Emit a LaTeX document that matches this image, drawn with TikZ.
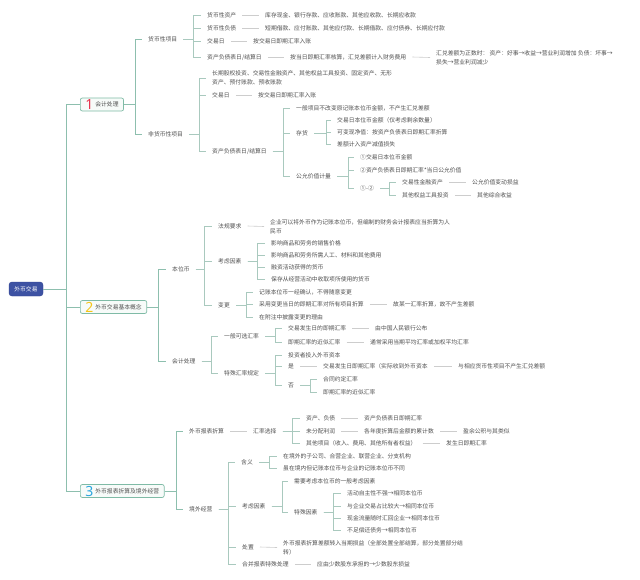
\documentclass[tikz,border=0pt]{standalone}
\usepackage{fontspec}
\setmainfont{Noto Sans CJK SC}
\newfontfamily\numfont{Noto Sans}
\definecolor{txtc}{HTML}{505050}
\definecolor{connc}{HTML}{A9C9BE}
\definecolor{mainc}{HTML}{8DBFAE}
\definecolor{leafc}{HTML}{CDCDCD}
\definecolor{boxc}{HTML}{7FBBA6}
\definecolor{boxf}{HTML}{F7FBF9}
\definecolor{rootc}{HTML}{3D52A3}
\definecolor{rootd}{HTML}{2F4190}
\definecolor{nA}{HTML}{E8344E}
\definecolor{nB}{HTML}{F5C518}
\definecolor{nC}{HTML}{2BA6DE}
\newcommand\cjksz{\fontsize{5.8}{9}\selectfont}
\newcommand\numb[2]{\raisebox{-2.8pt}{\numfont\bfseries\fontsize{14}{14}\selectfont\color{#1}#2}\hspace{2pt}}
\newcommand\mm[4]{\node[tx] (#1) at ({#2-6},#3) {#4};}
\newcommand\mmm[4]{\node[txtwo] (#1) at ({#2-6},#3) {#4};}
\newcommand\br[3]{\draw[conn] (#1.east) -- (#1.east -| #2,0) |- (#3.west);}
\newcommand\bm[3]{\draw[mconn] (#1.east) -- (#1.east -| #2,0) |- (#3.west);}
\newcommand\lk[2]{\draw[lconn] (#1.east) -- (#2.west);}
\begin{document}
\begin{tikzpicture}[x=1pt,y=-1pt,
  tx/.style={anchor=west, inner xsep=6pt, inner ysep=1pt, text=txtc, font=\cjksz, text height=5.1pt, text depth=0.7pt},
  txtwo/.style={anchor=west, inner xsep=6pt, inner ysep=1pt, text=txtc, font=\cjksz, align=left},
  lvbox/.style={draw=boxc, fill=boxf, rounded corners=2pt, line width=0.7pt, minimum height=13pt, inner xsep=5pt, inner ysep=0pt, anchor=west, text=txtc, font=\cjksz, text height=5.1pt, text depth=0.7pt},
  rootbox/.style={fill=rootc, draw=rootd, rounded corners=3pt, minimum width=34pt, minimum height=14pt, inner sep=0pt, text=white, font=\cjksz},
  conn/.style={draw=connc, line width=0.6pt},
  mconn/.style={draw=mainc, line width=0.7pt},
  lconn/.style={draw=leafc, line width=0.6pt}]
\fill[white] (0,0) rectangle (640,579);
\useasboundingbox (0,0) rectangle (640,579);

% root and level 1
\node[rootbox] (root) at (26,289) {外币交易};
\node[lvbox] (b1) at (80,104.5) {\numb{nA}{1}会计处理};
\node[lvbox] (b2) at (80,307) {\numb{nB}{2}外币交易基本概念};
\node[lvbox] (b3) at (80,491) {\numb{nC}{3}外币报表折算及境外经营};
\bm{root}{66}{b1}
\bm{root}{66}{b2}
\bm{root}{66}{b3}

% ===== section 1 =====
\mm{hb}{148}{39}{货币性项目}
\mm{fhb}{148}{134}{非货币性项目}
\bm{b1}{135}{hb}
\bm{b1}{135}{fhb}

\mm{hb1}{207}{15}{货币性资产}
\mm{hb1a}{265}{15}{库存现金、银行存款、应收账款、其他应收款、长期应收款}
\mm{hb2}{207}{28}{货币性负债}
\mm{hb2a}{265}{28}{短期借款、应付账款、其他应付款、长期借款、应付债券、长期应付款}
\mm{hb3}{207}{41}{交易日}
\mm{hb3a}{253}{41}{按交易日即期汇率入账}
\mm{hb4}{207}{57}{资产负债表日/结算日}
\mm{hb4a}{290}{57}{按当日即期汇率核算，汇兑差额计入财务费用}
\mmm{hb4b}{436}{57.5}{汇兑差额为正数时： 资产：好事→收益→营业利润增加 负债：坏事→\\损失→营业利润减少}
\br{hb}{193}{hb1}
\br{hb}{193}{hb2}
\br{hb}{193}{hb3}
\br{hb}{193}{hb4}
\lk{hb1}{hb1a}
\lk{hb2}{hb2a}
\lk{hb3}{hb3a}
\lk{hb4}{hb4a}
\lk{hb4a}{hb4b}

\mmm{f1}{212}{78}{长期股权投资、交易性金融资产、其他权益工具投资、固定资产、无形\\资产、预付账款、预收账款}
\mm{f2}{212}{95}{交易日}
\mm{f2a}{258}{95}{按交易日即期汇率入账}
\mm{f3}{212}{151}{资产负债表日/结算日}
\br{fhb}{199}{f1}
\br{fhb}{199}{f2}
\br{fhb}{199}{f3}
\lk{f2}{f2a}

\mm{g1}{296}{108}{一般项目不改变原记账本位币金额，不产生汇兑差额}
\mm{g2}{296}{133}{存货}
\mm{g3}{296}{176}{公允价值计量}
\br{f3}{283}{g1}
\br{f3}{283}{g2}
\br{f3}{283}{g3}

\mm{g2a}{337}{120}{交易日本位币金额（仅考虑剩余数量）}
\mm{g2b}{337}{132}{可变现净值：按资产负债表日即期汇率折算}
\mm{g2c}{337}{144}{差额计入资产减值损失}
\br{g2}{326}{g2a}
\br{g2}{326}{g2b}
\br{g2}{326}{g2c}

\mm{g3a}{360}{157}{①交易日本位币金额}
\mm{g3b}{360}{170}{②资产负债表日即期汇率*当日公允价值}
\mm{g3c}{360}{188}{①-②}
\br{g3}{348}{g3a}
\br{g3}{348}{g3b}
\br{g3}{348}{g3c}

\mm{g3ca}{402}{182}{交易性金融资产}
\mm{g3caa}{472}{182}{公允价值变动损益}
\mm{g3cb}{402}{195}{其他权益工具投资}
\mm{g3cba}{477}{195}{其他综合收益}
\br{g3c}{389}{g3ca}
\br{g3c}{389}{g3cb}
\lk{g3ca}{g3caa}
\lk{g3cb}{g3cba}

% ===== section 2 =====
\mm{bw}{172}{269}{本位币}
\mm{kj}{172}{361}{会计处理}
\bm{b2}{158}{bw}
\bm{b2}{158}{kj}

\mm{fg}{218}{226}{法规要求}
\mmm{fga}{270}{226.5}{企业可以将外币作为记账本位币，但编制的财务会计报表应当折算为人\\民币}
\mm{kl}{218}{261}{考虑因素}
\mm{bg}{218}{305}{变更}
\br{bw}{204}{fg}
\br{bw}{204}{kl}
\br{bw}{204}{bg}
\lk{fg}{fga}

\mm{kla}{271}{243}{影响商品和劳务的销售价格}
\mm{klb}{271}{255}{影响商品和劳务所需人工、材料和其他费用}
\mm{klc}{271}{267}{融资活动获得的货币}
\mm{kld}{271}{279}{保存从经营活动中收取项所使用的货币}
\br{kl}{257}{kla}
\br{kl}{257}{klb}
\br{kl}{257}{klc}
\br{kl}{257}{kld}

\mm{bga}{259}{292}{记账本位币一经确认，不得随意变更}
\mm{bgb}{259}{304}{采用变更当日的即期汇率对所有项目折算}
\mm{bgba}{393}{304}{故某一汇率折算，故不产生差额}
\mm{bgc}{259}{317}{在附注中披露变更的理由}
\br{bg}{246}{bga}
\br{bg}{246}{bgb}
\br{bg}{246}{bgc}
\lk{bgb}{bgba}

\mm{yb}{224}{336}{一般可选汇率}
\mm{ts}{224}{373}{特殊汇率规定}
\br{kj}{211}{yb}
\br{kj}{211}{ts}

\mm{yba}{288}{328}{交易发生日的即期汇率}
\mm{ybaa}{375}{328}{由中国人民银行公布}
\mm{ybb}{288}{342}{即期汇率的近似汇率}
\mm{ybba}{370}{342}{通常采用当期平均汇率或加权平均汇率}
\br{yb}{275}{yba}
\br{yb}{275}{ybb}
\lk{yba}{ybaa}
\lk{ybb}{ybba}

\mm{tsa}{288}{355}{投资者投入外币资本}
\mm{tsb}{288}{366}{是}
\mm{tsba}{323}{366}{交易发生日即期汇率（实际收到外币资本}
\mm{tsbb}{458}{366}{与相应货币性项目不产生汇兑差额}
\mm{tsc}{288}{385}{否}
\br{ts}{275}{tsa}
\br{ts}{275}{tsb}
\br{ts}{275}{tsc}
\lk{tsb}{tsba}
\lk{tsba}{tsbb}

\mm{tsca}{323}{379}{合同约定汇率}
\mm{tscb}{323}{392}{即期汇率的近似汇率}
\br{tsc}{310}{tsca}
\br{tsc}{310}{tscb}

% ===== section 3 =====
\mm{wb}{189}{431.5}{外币报表折算}
\mm{jw}{189}{509}{境外经营}
\bm{b3}{176}{wb}
\bm{b3}{176}{jw}

\mm{hl}{253}{431.5}{汇率选择}
\lk{wb}{hl}
\mm{hla}{306}{418}{资产、负债}
\mm{hlaa}{364}{418}{资产负债表日即期汇率}
\mm{hlb}{306}{431.5}{未分配利润}
\mm{hlba}{364}{431.5}{各年度折算后金额的累计数}
\mm{hlbb}{463}{431.5}{盈余公积与其类似}
\mm{hlc}{306}{443}{其他项目（收入、费用、其他所有者权益）}
\mm{hlca}{446}{443}{发生日即期汇率}
\br{hl}{292}{hla}
\br{hl}{292}{hlb}
\br{hl}{292}{hlc}
\lk{hla}{hlaa}
\lk{hlb}{hlba}
\lk{hlba}{hlbb}
\lk{hlc}{hlca}

\mm{hy}{241}{462}{含义}
\mm{ky}{242}{506}{考虑因素}
\mm{cz}{242}{547}{处置}
\mm{hbc}{242}{564}{合并报表特殊处理}
\br{jw}{228}{hy}
\br{jw}{228}{ky}
\br{jw}{228}{cz}
\br{jw}{228}{hbc}

\mm{hya}{283}{456}{在境外的子公司、合营企业、联营企业、分支机构}
\mm{hyb}{283}{468}{虽在境内但记账本位币与企业的记账本位币不同}
\br{hy}{269}{hya}
\br{hy}{269}{hyb}

\mm{kya}{294}{481}{需要考虑本位币的一般考虑因素}
\mm{kyb}{294}{512}{特殊因素}
\br{ky}{282}{kya}
\br{ky}{282}{kyb}

\mm{kyba}{347}{493}{活动自主性不强→相同本位币}
\mm{kybb}{347}{506}{与企业交易占比较大→相同本位币}
\mm{kybc}{347}{518}{现金流量随时汇回企业→相同本位币}
\mm{kybd}{347}{530}{不足偿还债务→相同本位币}
\br{kyb}{333}{kyba}
\br{kyb}{333}{kybb}
\br{kyb}{333}{kybc}
\br{kyb}{333}{kybd}

\mmm{cza}{283}{547.5}{外币报表折算差额转入当期损益（全部处置全部结算，部分处置部分结\\转）}
\lk{cz}{cza}
\mm{hbca}{317}{564}{应由少数股东承担的→少数股东损益}
\lk{hbc}{hbca}
\end{tikzpicture}
\end{document}
